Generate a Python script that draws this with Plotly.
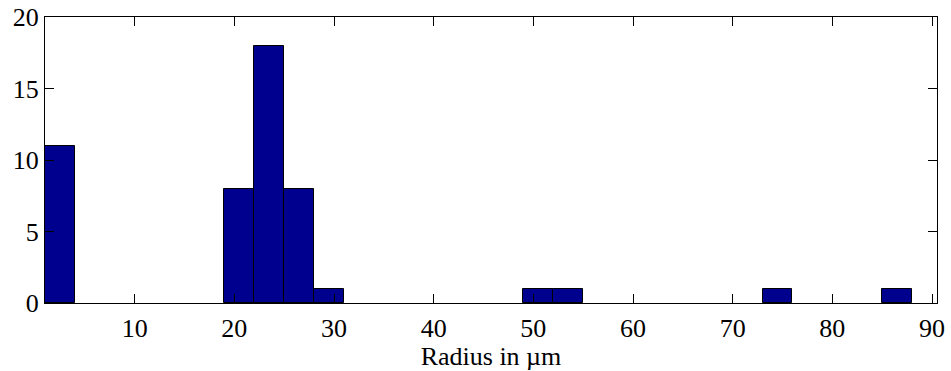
import plotly.graph_objects as go

bin_width = 3
bin_left = [1, 19, 22, 25, 28, 49, 52, 73, 85]
counts = [11, 8, 18, 8, 1, 1, 1, 1, 1]
x_ticks = [10, 20, 30, 40, 50, 60, 70, 80, 90]
y_ticks = [0, 5, 10, 15, 20]

centers = [b + bin_width / 2 for b in bin_left]

fig = go.Figure(go.Bar(
    x=centers, y=counts, width=bin_width,
    marker=dict(color="#00008F", line=dict(color="black", width=1)),
))

font = dict(family="Times New Roman", size=26, color="black")
axis_common = dict(showline=True, linecolor="black", linewidth=1.3, mirror="ticks",
                   ticks="inside", ticklen=9, tickcolor="black", tickwidth=1,
                   showgrid=False, zeroline=False, tickfont=font, automargin=False)

fig.update_layout(
    width=951, height=371,
    margin=dict(l=45, r=14, t=17, b=68),
    paper_bgcolor="white", plot_bgcolor="white",
    showlegend=False, bargap=0, font=font,
    xaxis=dict(range=[1, 90.5], tickvals=x_ticks, ticklabelstandoff=2,
               title=dict(text="Radius in µm", font=font, standoff=2), **axis_common),
    yaxis=dict(range=[0, 20], tickvals=y_ticks, **axis_common),
)

fig.write_html("out.html")
